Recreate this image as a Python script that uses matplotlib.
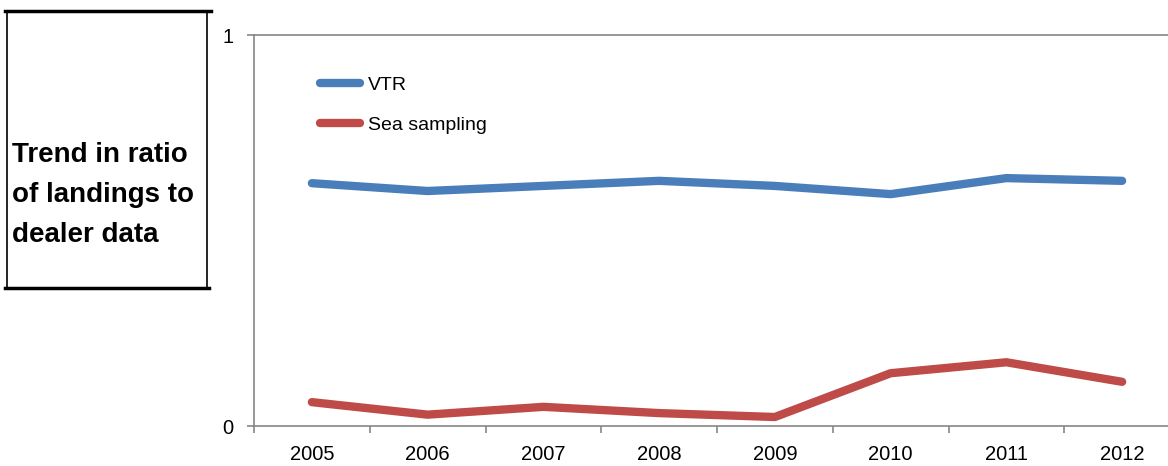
import matplotlib
matplotlib.use('Agg')
import matplotlib.pyplot as plt
from matplotlib.lines import Line2D

years = ['2005', '2006', '2007', '2008', '2009', '2010', '2011', '2012']
vtr = [0.621, 0.601, 0.614, 0.627, 0.614, 0.593, 0.634, 0.627]
sea_sampling = [0.061, 0.029, 0.049, 0.033, 0.023, 0.135, 0.163, 0.113]
title_lines = ['Trend in ratio', 'of landings to', 'dealer data']

plt.rcParams['font.family'] = ['Liberation Sans', 'DejaVu Sans']

W, H = 1168, 466
fig = plt.figure(figsize=(W / 100, H / 100), dpi=100)
# axes runs a little past the right edge, as in the original
ax = fig.add_axes([254/W, 40/H, 926/W, 391/H])

x = list(range(len(years)))
ax.plot(x, vtr, color='#4a7ebb', lw=6, solid_capstyle='round', solid_joinstyle='round', label='VTR')
ax.plot(x, sea_sampling, color='#be4b48', lw=6, solid_capstyle='round', solid_joinstyle='round', label='Sea sampling')

ax.set_xlim(-0.5, 7.5)
ax.set_ylim(0, 1)
ax.set_yticks([0, 1])
ax.set_yticklabels(['0', '1'])
ax.set_xticks(x)
ax.set_xticklabels(years)
ax.set_xticks([i + 0.5 for i in range(-1, 8)], minor=True)
ax.tick_params(axis='x', which='major', length=0, pad=14, labelsize=14.5)
ax.tick_params(axis='x', which='minor', length=5, color='#868686', width=1.2)
ax.tick_params(axis='y', length=5, color='#868686', width=1.2, labelsize=14.5, pad=10)
for s in ['left', 'bottom', 'top']:
    ax.spines[s].set_color('#868686')
    ax.spines[s].set_linewidth(1.2)
ax.spines['right'].set_visible(False)

ax.legend(loc='upper left', bbox_to_anchor=(0.0625, 0.915), frameon=False, fontsize=14,
          handlelength=2.1, handletextpad=0.38, labelspacing=1.15, borderaxespad=0)

# title box on the left
fig.add_artist(Line2D([5/W, 211/W], [1 - 11/H, 1 - 11/H], color='black', lw=2.5))
fig.add_artist(Line2D([5/W, 209/W], [1 - 288/H, 1 - 288/H], color='black', lw=2.5))
fig.add_artist(Line2D([7/W, 7/W], [1 - 11/H, 1 - 288/H], color='black', lw=1.2))
fig.add_artist(Line2D([207/W, 207/W], [1 - 11/H, 1 - 288/H], color='black', lw=1.2))
for i, line in enumerate(title_lines):
    fig.text(12/W, 1 - (162 + 40 * i)/H, line, fontsize=20, fontweight='bold',
             va='baseline', ha='left')

fig.savefig('out.png', dpi=100)
